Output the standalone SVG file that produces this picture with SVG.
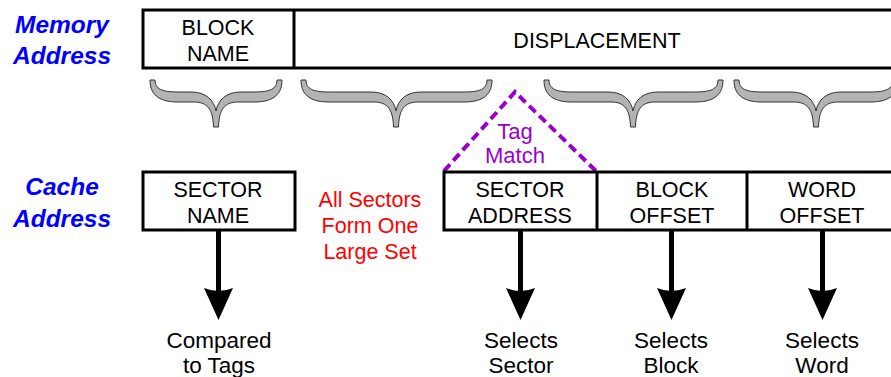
<svg xmlns="http://www.w3.org/2000/svg" width="891" height="377" viewBox="0 0 891 377">
  <style>
    .lbl { font-family: "Liberation Sans", Arial, sans-serif; font-style: italic; font-weight: bold; font-size: 24.5px; fill: #0000ff; text-anchor: middle; }
    .txt { font-family: "Liberation Sans", Arial, sans-serif; font-size: 21.5px; fill: #000; text-anchor: middle; }
    .res { font-family: "Liberation Sans", Arial, sans-serif; font-size: 22.5px; fill: #000; text-anchor: middle; }
    .red { font-family: "Liberation Sans", Arial, sans-serif; font-size: 21.5px; fill: #ff0000; text-anchor: middle; }
    .pur { font-family: "Liberation Sans", Arial, sans-serif; font-size: 22px; fill: #9900cc; text-anchor: middle; }
    .box { fill: #fff; stroke: #000; stroke-width: 3; }
    .div { stroke: #000; stroke-width: 3; }
    .brace { fill: #b3b3b3; stroke: #333; stroke-width: 1; stroke-linejoin: round; }
    .shaft { stroke: #000; stroke-width: 5; }
  </style>
  <defs>
    <!-- arrowhead with a slightly notched back, tip at origin -->
    <path id="head" d="M0,0 L-14.5,-32 Q0,-26 14.5,-32 Z" fill="#000"/>
  </defs>

  <rect width="891" height="377" fill="#fff"/>

  <!-- row labels -->
  <g id="memory-label">
    <text class="lbl" x="62" y="33">Memory</text>
    <text class="lbl" x="62" y="64">Address</text>
  </g>
  <g id="cache-label">
    <text class="lbl" x="62" y="195">Cache</text>
    <text class="lbl" x="62" y="227">Address</text>
  </g>

  <!-- memory address fields -->
  <g id="memory-address">
    <rect class="box" x="143" y="10" width="760" height="58"/>
    <line class="div" x1="294" y1="10" x2="294" y2="68"/>
    <text class="txt" x="218" y="35">BLOCK</text>
    <text class="txt" x="218" y="61">NAME</text>
    <text class="txt" x="597" y="48">DISPLACEMENT</text>
  </g>

  <!-- braces under the displacement bits -->
  <g id="braces">
    <path class="brace" d="M150,80 L155,80 C155,89 162,92 178,92 L191,92 C206,92 214,100 216,111 C218,100 226,92 241,92 L254,92 C270,92 277,89 277,80 L282,80 C282,97 270,102 254,102 L238,102 C224,102 219,110 218.5,127 L213.5,127 C213,110 208,102 194,102 L178,102 C162,102 150,97 150,80 Z"/>
    <path class="brace" d="M301,80 L306,80 C306,89 313,92 329,92 L371,92 C386,92 394,100 396,111 C398,100 406,92 421,92 L464,92 C480,92 487,89 487,80 L492,80 C492,97 480,102 464,102 L418,102 C404,102 399,110 398.5,127 L393.5,127 C393,110 388,102 374,102 L329,102 C313,102 301,97 301,80 Z"/>
    <path class="brace" d="M544,80 L549,80 C549,89 556,92 572,92 L608,92 C623,92 631,100 633,111 C635,100 643,92 658,92 L695,92 C711,92 718,89 718,80 L723,80 C723,97 711,102 695,102 L655,102 C641,102 636,110 635.5,127 L630.5,127 C630,110 625,102 611,102 L572,102 C556,102 544,97 544,80 Z"/>
    <path class="brace" d="M734,80 L739,80 C739,89 746,92 762,92 L791,92 C806,92 814,100 816,111 C818,100 826,92 841,92 L870,92 C886,92 893,89 893,80 L898,80 C898,97 886,102 870,102 L838,102 C824,102 819,110 818.5,127 L813.5,127 C813,110 808,102 794,102 L762,102 C746,102 734,97 734,80 Z"/>
  </g>

  <!-- tag match region -->
  <g id="tag-match">
    <polyline points="444,171 515,92 596,171" fill="none" stroke="#9900cc" stroke-width="4" stroke-dasharray="9,5"/>
    <text class="pur" x="515" y="139">Tag</text>
    <text class="pur" x="515" y="163">Match</text>
  </g>

  <!-- cache address fields -->
  <g id="sector-name">
    <rect class="box" x="143" y="172" width="152" height="58"/>
    <text class="txt" x="218" y="197">SECTOR</text>
    <text class="txt" x="218" y="223">NAME</text>
  </g>
  <g id="all-sectors-note">
    <text class="red" x="370" y="207">All Sectors</text>
    <text class="red" x="370" y="233">Form One</text>
    <text class="red" x="370" y="259">Large Set</text>
  </g>
  <g id="cache-fields">
    <rect class="box" x="444" y="172" width="460" height="58"/>
    <line class="div" x1="597" y1="172" x2="597" y2="230"/>
    <line class="div" x1="747" y1="172" x2="747" y2="230"/>
  </g>
  <g id="sector-address">
    <text class="txt" x="520" y="197">SECTOR</text>
    <text class="txt" x="520" y="223">ADDRESS</text>
  </g>
  <g id="block-offset">
    <text class="txt" x="672" y="197">BLOCK</text>
    <text class="txt" x="672" y="223">OFFSET</text>
  </g>
  <g id="word-offset">
    <text class="txt" x="822" y="197">WORD</text>
    <text class="txt" x="822" y="223">OFFSET</text>
  </g>

  <!-- connectors -->
  <g id="connectors">
    <line class="shaft" x1="218.5" y1="231" x2="218.5" y2="296"/>
    <use href="#head" x="218.5" y="320"/>
    <line class="shaft" x1="520.5" y1="231" x2="520.5" y2="296"/>
    <use href="#head" x="520.5" y="320"/>
    <line class="shaft" x1="671.5" y1="231" x2="671.5" y2="296"/>
    <use href="#head" x="671.5" y="320"/>
    <line class="shaft" x1="822.5" y1="231" x2="822.5" y2="296"/>
    <use href="#head" x="822.5" y="320"/>
  </g>

  <!-- results -->
  <g id="compared-to-tags">
    <text class="res" x="219" y="348">Compared</text>
    <text class="res" x="219" y="373">to Tags</text>
  </g>
  <g id="selects-sector">
    <text class="res" x="521" y="348">Selects</text>
    <text class="res" x="521" y="373">Sector</text>
  </g>
  <g id="selects-block">
    <text class="res" x="671" y="348">Selects</text>
    <text class="res" x="671" y="373">Block</text>
  </g>
  <g id="selects-word">
    <text class="res" x="822" y="348">Selects</text>
    <text class="res" x="822" y="373">Word</text>
  </g>
</svg>
